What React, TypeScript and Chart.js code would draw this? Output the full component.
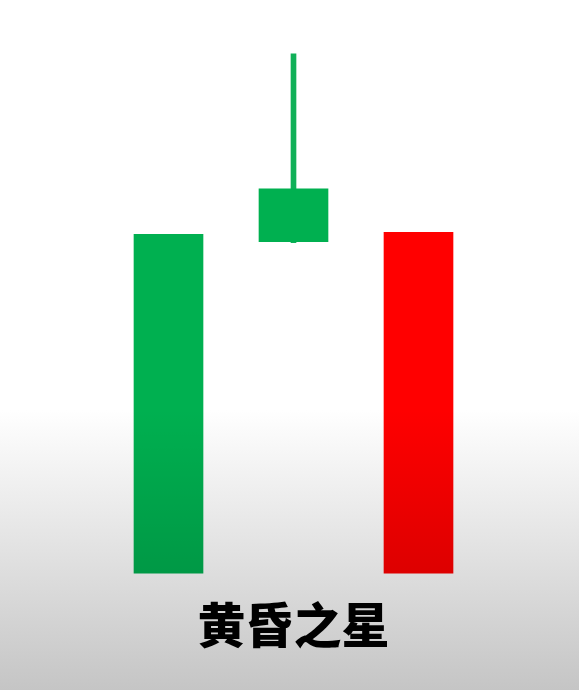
import React, { useEffect, useRef } from "react";
import { Chart, registerables } from "chart.js";

Chart.register(...registerables);

const categories = ["第1根", "第2根", "第3根"];
// body ranges [low, high]
const bodyLow = [9.6, 76.1, 9.6];
const bodyHigh = [77.6, 86.7, 78.0];
// wick ranges (only the star has a visible upper shadow)
const wickLow: (number | null)[] = [null, 75.9, null];
const wickHigh: (number | null)[] = [null, 113.8, null];
const bodyColors = ["#00B050", "#00B050", "#FF0000"];
const wickColors = ["#10B058", "#10B058", "#FF0000"];
const titleText = "黄昏之星";

const shadePlugin = {
  id: "shade",
  beforeDraw(chart: any) {
    const { ctx, width, height } = chart;
    ctx.save();
    ctx.fillStyle = "#ffffff";
    ctx.fillRect(0, 0, width, height);
    ctx.restore();
  },
  afterDraw(chart: any) {
    const { ctx, width, height } = chart;
    ctx.save();
    ctx.globalCompositeOperation = "multiply";
    const g = ctx.createLinearGradient(0, 0, 0, height);
    g.addColorStop(0, "#ffffff");
    g.addColorStop(410 / 690, "#ffffff");
    g.addColorStop(1, "#c5c5c5");
    ctx.fillStyle = g;
    ctx.fillRect(0, 0, width, height);
    ctx.restore();
  },
};

export default function App() {
  const ref = useRef<HTMLCanvasElement | null>(null);
  useEffect(() => {
    if (!ref.current) return;
    const chart = new Chart(ref.current, {
      type: "bar",
      data: {
        labels: categories,
        datasets: [
          {
            label: "影线",
            data: wickLow.map((l, i) => (l === null || wickHigh[i] === null ? null : [l, wickHigh[i] as number])) as any,
            backgroundColor: wickColors,
            borderWidth: 0,
            barThickness: 5,
            grouped: false,
            order: 2,
          } as any,
          {
            label: "实体",
            data: bodyLow.map((l, i) => [l, bodyHigh[i]]) as any,
            backgroundColor: bodyColors,
            borderWidth: 0,
            barThickness: 69,
            grouped: false,
            order: 1,
          } as any,
        ],
      },
      options: {
        animation: false,
        responsive: false,
        layout: { padding: { left: 106, right: 98, top: 23, bottom: 36.4 } },
        scales: {
          x: { display: false, offset: true },
          y: { display: false, min: 5, max: 120 },
        },
        plugins: {
          legend: { display: false },
          tooltip: { enabled: false },
          title: {
            display: true,
            position: "bottom",
            fullSize: false,
            text: titleText,
            color: "#000000",
            padding: { top: 0, bottom: 0 },
            font: { family: "'Noto Sans CJK SC', sans-serif", size: 48, weight: "900", lineHeight: 1.2 },
          },
        },
      },
      plugins: [shadePlugin],
    });
    return () => chart.destroy();
  }, []);
  return (
    <div style={{ position: "fixed", left: 0, top: 0, width: 579, height: 690 }}>
      <canvas ref={ref} width={579} height={690} style={{ display: "block" }} />
    </div>
  );
}
